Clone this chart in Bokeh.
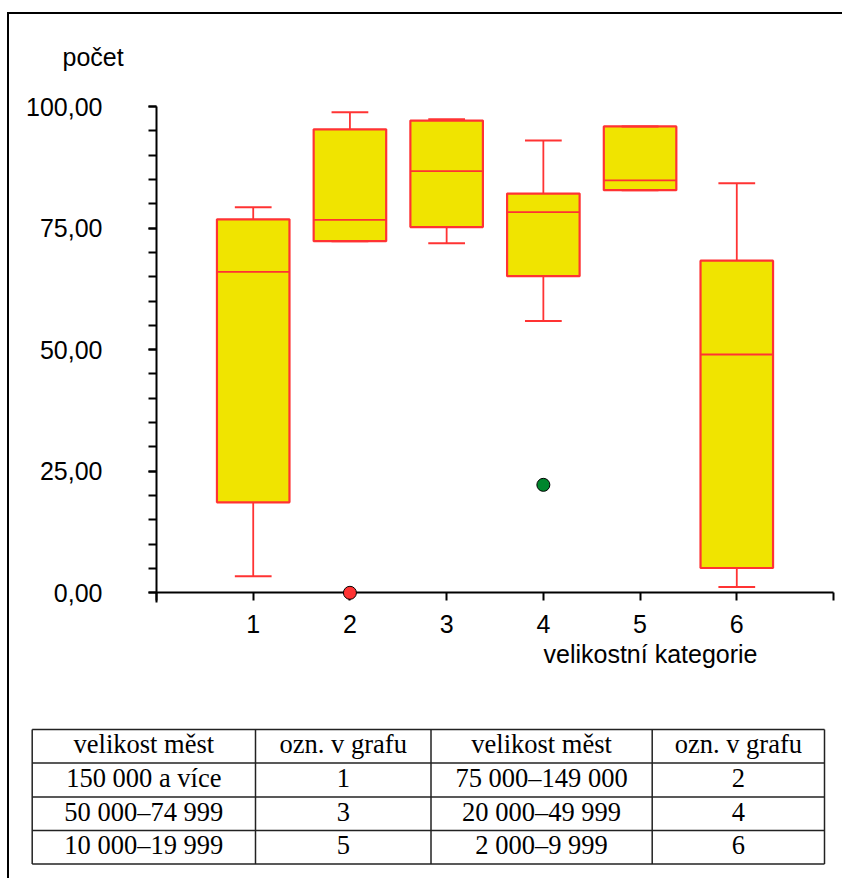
from bokeh.plotting import figure
from bokeh.models import Range1d, FixedTicker, Label, ColumnDataSource, Spacer
from bokeh.layouts import column, row
from bokeh.embed import file_html
from bokeh.resources import INLINE
from bokeh.core.properties import value

# ---------------- data ----------------
categories = [1, 2, 3, 4, 5, 6]
lower_whisker = [3.4, 72.3, 71.9, 55.9, 82.8, 1.2]
q1 = [18.6, 72.3, 75.2, 65.1, 82.8, 5.1]
median = [66.0, 76.7, 86.7, 78.3, 84.8, 49.0]
q3 = [76.8, 95.3, 97.1, 82.1, 95.9, 68.3]
upper_whisker = [79.3, 98.8, 97.4, 93.0, 95.9, 84.2]

outlier_cat = [2, 4]
outlier_val = [0.0, 22.2]
outlier_color = ["#FF3333", "#00862D"]

y_tick_values = [0, 25, 50, 75, 100]
y_tick_labels = ["0,00", "25,00", "50,00", "75,00", "100,00"]
x_tick_labels = ["1", "2", "3", "4", "5", "6"]
y_title = "počet"
x_title = "velikostní kategorie"

table_header = ["velikost měst", "ozn. v grafu", "velikost měst", "ozn. v grafu"]
size_left = ["150 000 a více", "50 000–74 999", "10 000–19 999"]
code_left = ["1", "3", "5"]
size_right = ["75 000–149 000", "20 000–49 999", "2 000–9 999"]
code_right = ["2", "4", "6"]

# ---------------- style / layout ----------------
RED = "#FF3333"
YELLOW = "#F0E400"
SANS = "Liberation Sans"
SERIF = "Liberation Serif"
AX_FS = "25px"
TB_FS = "26.5px"
BOX_W = 0.75
CAP_W = 0.38

FIG_W = 833
CH_H = 686
TB_H = 178
# pixel anchors of the plot inside the chart canvas
X0_PX, X7_PX = 147.0, 824.0       # canvas x of category 0 and 7
Y100_PX, Y0_PX = 92.0, 578.3      # canvas y of value 100 and 0
UX = (X7_PX - X0_PX) / 7.0
UY = (Y0_PX - Y100_PX) / 100.0

# ---------------- chart ----------------
p = figure(width=FIG_W, height=CH_H,
           x_range=Range1d(-X0_PX / UX, (FIG_W - X0_PX) / UX),
           y_range=Range1d(-(CH_H - Y0_PX) / UY, Y0_PX / UY),
           output_backend="svg", toolbar_location=None, min_border=0)
p.xgrid.visible = False
p.ygrid.visible = False
p.outline_line_color = None
p.background_fill_color = "white"
p.border_fill_color = "white"

yax = p.yaxis[0]
yax.fixed_location = 0
yax.bounds = (-2, 100)
yax.ticker = FixedTicker(ticks=y_tick_values, minor_ticks=list(range(0, 101, 5)))
yax.major_label_overrides = {v: s for v, s in zip(y_tick_values, y_tick_labels)}
yax.axis_line_width = 2
yax.major_tick_line_width = 2
yax.minor_tick_line_width = 2
yax.major_tick_out = 8
yax.major_tick_in = 0
yax.minor_tick_out = 8
yax.minor_tick_in = 0
yax.major_label_standoff = 46
yax.major_label_text_font = SANS
yax.major_label_text_font_size = AX_FS
yax.major_label_text_color = "black"
yax.axis_line_color = "black"

xax = p.xaxis[0]
xax.fixed_location = 0
xax.bounds = (0, 7)
x_ticks = list(range(0, 8))
xax.ticker = FixedTicker(ticks=x_ticks, minor_ticks=[])
over = {t: "" for t in x_ticks}
over.update({c: s for c, s in zip(categories, x_tick_labels)})
xax.major_label_overrides = over
xax.axis_line_width = 2
xax.major_tick_line_width = 2
xax.major_tick_out = 8
xax.major_tick_in = 0
xax.minor_tick_line_color = None
xax.major_label_standoff = 14
xax.major_label_text_font = SANS
xax.major_label_text_font_size = AX_FS
xax.major_label_text_color = "black"
xax.axis_line_color = "black"

src = ColumnDataSource(dict(
    cat=categories, lo=lower_whisker, q1=q1, med=median, q3=q3, hi=upper_whisker,
    bl=[c - BOX_W / 2 for c in categories], br=[c + BOX_W / 2 for c in categories],
    cl=[c - CAP_W / 2 for c in categories], cr=[c + CAP_W / 2 for c in categories],
))

p.segment(x0="cat", y0="q3", x1="cat", y1="hi", line_color=RED, line_width=1.8, source=src)
p.segment(x0="cat", y0="q1", x1="cat", y1="lo", line_color=RED, line_width=1.8, source=src)
p.vbar(x="cat", width=BOX_W, top="q3", bottom="q1", fill_color=YELLOW,
       line_color=RED, line_width=2.2, source=src)
p.segment(x0="bl", y0="med", x1="br", y1="med", line_color=RED, line_width=1.8, source=src)
p.segment(x0="cl", y0="hi", x1="cr", y1="hi", line_color=RED, line_width=2, source=src)
p.segment(x0="cl", y0="lo", x1="cr", y1="lo", line_color=RED, line_width=2, source=src)

osrc = ColumnDataSource(dict(x=outlier_cat, y=outlier_val, c=outlier_color))
p.scatter(x="x", y="y", size=13, fill_color="c", line_color="black", line_width=1,
          source=osrc, level="overlay")

p.add_layout(Label(x=0, y=100, x_offset=-94, y_offset=50, text=y_title,
                   text_font=SANS, text_font_size=AX_FS, text_color="black",
                   text_align="left", text_baseline="middle"))
p.add_layout(Label(x=0, y=0, x_offset=494, y_offset=-61, text=x_title,
                   text_font=SANS, text_font_size=AX_FS, text_color="black",
                   text_align="center", text_baseline="middle"))

# ---------------- table ----------------
t = figure(width=FIG_W, height=TB_H, x_range=Range1d(0, FIG_W), y_range=Range1d(TB_H, 0),
           x_axis_type=None, y_axis_type=None, min_border=0,
           output_backend="svg", toolbar_location=None)
t.xgrid.visible = False
t.ygrid.visible = False
t.outline_line_color = None

col_edges = [22.7, 246, 421.5, 642.7, 815]
row_edges = [29, 62.5, 96.5, 130, 163.5]
t.segment(x0=col_edges, y0=[row_edges[0]] * len(col_edges), x1=col_edges,
          y1=[row_edges[-1]] * len(col_edges), line_color="#222222", line_width=1.5)
t.segment(x0=[col_edges[0]] * len(row_edges), y0=row_edges,
          x1=[col_edges[-1]] * len(row_edges), y1=row_edges, line_color="#222222", line_width=1.5)

col_c = [(col_edges[i] + col_edges[i + 1]) / 2 for i in range(4)]
row_mid = [(row_edges[i] + row_edges[i + 1]) / 2 - 2 for i in range(4)]
txt, tx, ty = [], [], []
for j, h in enumerate(table_header):
    txt.append(h); tx.append(col_c[j]); ty.append(row_mid[0])
for i in range(3):
    for j, s in enumerate([size_left[i], code_left[i], size_right[i], code_right[i]]):
        txt.append(s); tx.append(col_c[j]); ty.append(row_mid[i + 1])
t.text(x=tx, y=ty, text=txt, text_align="center", text_baseline="middle",
       text_font=value(SERIF), text_font_size=TB_FS, text_color="black")

inner = column(p, t, styles={"border-top": "2px solid black", "border-left": "2px solid black"})
layout = column(Spacer(height=12, width=10), row(Spacer(width=7, height=10), inner))

open("out.html", "w").write(file_html(layout, INLINE))
